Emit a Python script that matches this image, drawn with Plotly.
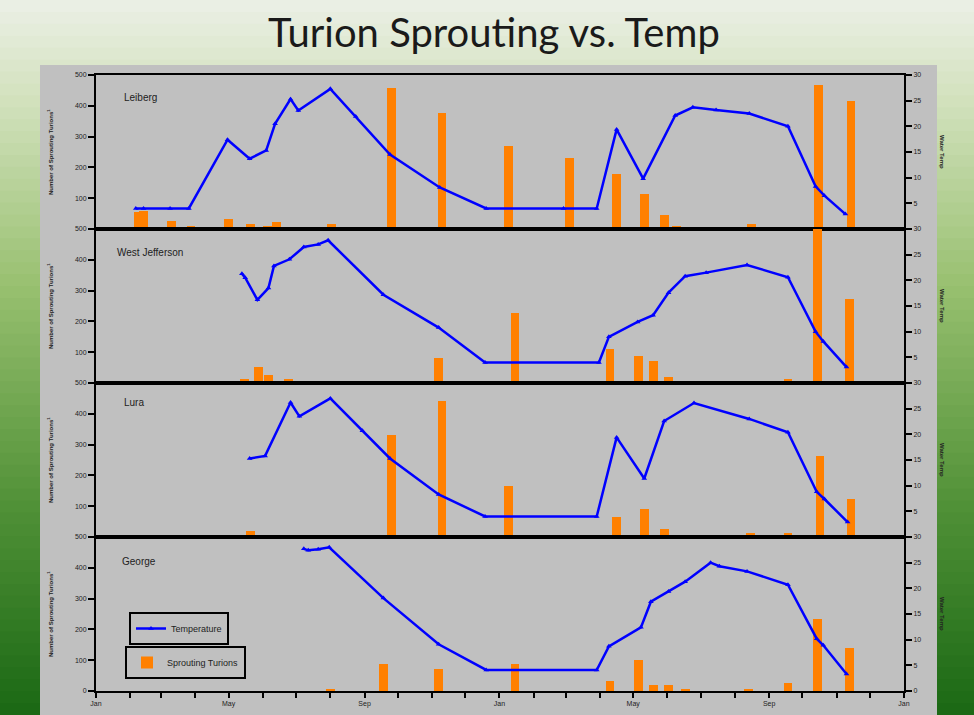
import plotly.graph_objects as go
from plotly.subplots import make_subplots

# ---------------- data ----------------
sites = ["Leiberg", "West Jefferson", "Lura", "George"]

leiberg_temp_dates = ["2007-02-06", "2007-02-13", "2007-03-09", "2007-03-26", "2007-04-30", "2007-05-20",
                      "2007-06-04", "2007-06-12", "2007-06-26", "2007-07-03", "2007-08-01", "2007-08-24",
                      "2007-09-24", "2007-11-08", "2007-12-20", "2008-02-28", "2008-03-29", "2008-04-16",
                      "2008-05-10", "2008-06-08", "2008-06-24", "2008-07-15", "2008-08-14", "2008-09-18",
                      "2008-10-13", "2008-10-21", "2008-11-09"]
leiberg_temp = [4.0, 4.0, 4.0, 4.0, 17.4, 13.7, 15.3, 20.5, 25.3, 23.1, 27.3, 21.9, 14.5, 8.1, 4.0,
                4.0, 4.0, 19.4, 9.8, 22.1, 23.7, 23.2, 22.5, 20.0, 8.3, 6.5, 2.9]
leiberg_bar_dates = ["2007-02-08", "2007-02-13", "2007-03-10", "2007-03-28", "2007-05-01", "2007-05-21",
                     "2007-06-05", "2007-06-13", "2007-08-02", "2007-09-25", "2007-11-10", "2008-01-09",
                     "2008-03-04", "2008-04-16", "2008-05-11", "2008-05-29", "2008-06-09", "2008-08-16",
                     "2008-10-16", "2008-11-14"]
leiberg_bars = [54, 59, 27, 9, 34, 15, 9, 22, 15, 457, 376, 271, 231, 180, 113, 47, 9, 15, 468, 417]

wj_temp_dates = ["2007-05-13", "2007-05-16", "2007-05-27", "2007-06-06", "2007-06-11", "2007-06-25",
                 "2007-07-08", "2007-07-21", "2007-07-30", "2007-09-18", "2007-11-07", "2007-12-19",
                 "2008-03-31", "2008-04-09", "2008-05-05", "2008-05-19", "2008-06-02", "2008-06-17",
                 "2008-07-06", "2008-08-12", "2008-09-18", "2008-10-13", "2008-10-20", "2008-11-10"]
wj_temp = [21.3, 20.5, 16.2, 18.5, 22.8, 24.1, 26.5, 27.0, 27.8, 17.2, 10.8, 4.0,
           4.0, 9.0, 11.9, 13.2, 17.6, 20.8, 21.5, 23.0, 20.6, 10.0, 8.1, 3.1]
wj_bar_dates = ["2007-05-15", "2007-05-28", "2007-06-06", "2007-06-12", "2007-06-24", "2007-07-09",
                "2007-11-07", "2008-01-15", "2008-04-10", "2008-05-06", "2008-05-19", "2008-06-02",
                "2008-09-18", "2008-10-15", "2008-11-13"]
wj_bars = [14, 52, 27, 8, 14, 8, 80, 227, 112, 87, 73, 20, 14, 650, 274]

lura_temp_dates = ["2007-05-20", "2007-06-03", "2007-06-26", "2007-07-04", "2007-08-01", "2007-08-30",
                   "2007-09-24", "2007-11-07", "2007-12-19", "2008-03-29", "2008-04-16", "2008-05-11",
                   "2008-05-29", "2008-06-25", "2008-08-14", "2008-09-18", "2008-10-14", "2008-10-21",
                   "2008-11-11"]
lura_temp = [15.3, 15.8, 26.2, 23.5, 27.0, 20.7, 15.3, 8.3, 4.0, 4.0, 19.4, 11.4, 22.6, 26.1,
             23.0, 20.4, 8.8, 7.4, 2.9]
lura_bar_dates = ["2007-05-21", "2007-06-04", "2007-08-01", "2007-09-25", "2007-11-10", "2008-01-09",
                  "2008-04-16", "2008-05-11", "2008-05-29", "2008-06-09", "2008-08-15", "2008-09-18",
                  "2008-10-17", "2008-11-14"]
lura_bars = [20, 8, 8, 331, 443, 166, 66, 92, 25, 8, 14, 14, 264, 125]

george_temp_dates = ["2007-07-08", "2007-07-12", "2007-07-21", "2007-07-31", "2007-09-18", "2007-11-07",
                     "2007-12-20", "2008-03-29", "2008-04-09", "2008-05-08", "2008-05-17", "2008-06-02",
                     "2008-06-17", "2008-07-10", "2008-07-18", "2008-08-12", "2008-09-18", "2008-10-14",
                     "2008-10-20", "2008-11-10"]
george_temp = [27.7, 27.4, 27.6, 28.0, 18.1, 9.1, 4.1, 4.1, 8.7, 12.4, 17.4, 19.4, 21.3, 25.0,
               24.3, 23.3, 20.7, 10.2, 8.9, 3.3]
george_bar_dates = ["2007-08-01", "2007-09-18", "2007-11-07", "2008-01-15", "2008-04-10", "2008-05-06",
                    "2008-05-19", "2008-06-02", "2008-06-17", "2008-08-13", "2008-09-18", "2008-10-15",
                    "2008-11-13"]
george_bars = [8, 87, 73, 87, 33, 100, 18, 18, 8, 8, 27, 234, 139]

month_ticks = ["2007-%02d-01" % m for m in range(1, 13)] + ["2008-%02d-01" % m for m in range(1, 13)] + ["2009-01-01"]
month_labels = ["Jan", "", "", "", "May", "", "", "", "Sep", "", "", "",
                "Jan", "", "", "", "May", "", "", "", "Sep", "", "", "", "Jan"]

count_ticks = [0, 100, 200, 300, 400, 500]
count_labels = ["0", "100", "200", "300", "400", "500"]
temp_ticks = [0, 5, 10, 15, 20, 25, 30]
temp_labels = ["0", "5", "10", "15", "20", "25", "30"]

temp_series = [(leiberg_temp_dates, leiberg_temp), (wj_temp_dates, wj_temp),
               (lura_temp_dates, lura_temp), (george_temp_dates, george_temp)]
bar_series = [(leiberg_bar_dates, leiberg_bars), (wj_bar_dates, wj_bars),
              (lura_bar_dates, lura_bars), (george_bar_dates, george_bars)]

# ---------------- figure ----------------
W, H = 974, 715
fig = make_subplots(rows=4, cols=1, shared_xaxes=True, vertical_spacing=0,
                    specs=[[{"secondary_y": True}]] * 4)

BAR_W = 8 * 86400000
for i in range(4):
    bx, by = bar_series[i]
    tx, ty = temp_series[i]
    fig.add_trace(go.Bar(x=bx, y=by, width=BAR_W, marker=dict(color="#ff8000", line=dict(width=0)),
                         name="Sprouting Turions", legend="legend2", showlegend=(i == 0)),
                  row=i + 1, col=1, secondary_y=False)
    fig.add_trace(go.Scatter(x=tx, y=ty, mode="lines+markers",
                             line=dict(color="#0000ff", width=2.5),
                             marker=dict(symbol="triangle-up", size=5, color="#0000ff"),
                             name="Temperature", legend="legend", showlegend=(i == 0)),
                  row=i + 1, col=1, secondary_y=True)

def py(y):
    return 1 - y / H

panel_px = [(75, 229), (229, 383), (383, 537), (537, 691)]
tickfont = dict(family="Liberation Sans", size=7, color="#222222")
for i, (top, bot) in enumerate(panel_px):
    dom = [py(bot), py(top)]
    last = (i == 3)
    cl = count_labels if last else [""] + count_labels[1:]
    tl = temp_labels if last else [""] + temp_labels[1:]
    fig.update_yaxes(domain=dom, range=[0, 500], tickmode="array", tickvals=count_ticks, ticktext=cl,
                     showline=True, linecolor="black", linewidth=2, ticks="outside", ticklen=6,
                     tickwidth=2, tickcolor="black", showgrid=False, zeroline=False, tickfont=tickfont,
                     automargin=False, row=i + 1, col=1, secondary_y=False)
    fig.update_yaxes(domain=dom, range=[0, 30], tickmode="array", tickvals=temp_ticks, ticktext=tl,
                     showline=True, linecolor="black", linewidth=2, ticks="outside", ticklen=6,
                     tickwidth=2, tickcolor="black", showgrid=False, zeroline=False, tickfont=tickfont,
                     automargin=False, row=i + 1, col=1, secondary_y=True)

fig.update_xaxes(domain=[96 / W, 904 / W], range=["2007-01-01", "2009-01-01"], type="date",
                 showline=True, linecolor="black", linewidth=2, mirror=True,
                 showgrid=False, zeroline=False, automargin=False)
for r in range(1, 4):
    fig.update_xaxes(ticks="", showticklabels=False, row=r, col=1)
fig.update_xaxes(tickmode="array", tickvals=month_ticks, ticktext=month_labels,
                 ticks="outside", ticklen=5, tickwidth=1.5, tickcolor="black",
                 showticklabels=True, tickfont=tickfont, tickangle=0, row=4, col=1)

# background: slide gradient + gray chart area
stops = [(0.0, (236, 240, 230)), (0.15, (208, 224, 186)), (0.4, (152, 192, 112)),
         (0.7, (82, 146, 56)), (1.0, (26, 104, 20))]

def grad(t):
    for (t0, c0), (t1, c1) in zip(stops[:-1], stops[1:]):
        if t0 <= t <= t1:
            f = (t - t0) / (t1 - t0)
            return "rgb(%d,%d,%d)" % tuple(round(a + (b - a) * f) for a, b in zip(c0, c1))
    return "rgb(%d,%d,%d)" % stops[-1][1]

shapes = []
N = 60
for k in range(N):
    y0 = k * H / N
    y1 = (k + 1) * H / N + 1
    shapes.append(dict(type="rect", xref="paper", yref="paper", x0=0, x1=1,
                       y0=py(min(y1, H)), y1=py(y0), fillcolor=grad((k + 0.5) / N),
                       line=dict(width=0), layer="below"))
shapes.append(dict(type="rect", xref="paper", yref="paper", x0=40 / W, x1=937 / W,
                   y0=0, y1=py(65), fillcolor="#c0c0c0", line=dict(width=0), layer="below"))

annotations = [
    dict(text="Turion Sprouting vs. Temp", x=494 / W, y=py(32), xref="paper", yref="paper",
         showarrow=False, font=dict(family="Lato", size=40, color="#1a1a1a"),
         xanchor="center", yanchor="middle"),
]
label_pos = [(122, 97), (115, 252), (122, 402), (120, 561)]
for name, (lx, ly) in zip(sites, label_pos):
    annotations.append(dict(text=name, x=lx / W, y=py(ly), xref="paper", yref="paper",
                            showarrow=False, xanchor="left", yanchor="middle",
                            font=dict(family="Liberation Sans", size=10, color="#222222")))
for (top, bot) in panel_px:
    cy = py((top + bot) / 2)
    annotations.append(dict(text="<b>Number of Sprouting Turions<sup>1</sup></b>", x=50 / W, y=cy,
                            xref="paper", yref="paper", showarrow=False, textangle=-90,
                            xanchor="center", yanchor="middle",
                            font=dict(family="Liberation Sans", size=6, color="#222222")))
    annotations.append(dict(text="<b>Water Temp</b>", x=942 / W, y=cy,
                            xref="paper", yref="paper", showarrow=False, textangle=90,
                            xanchor="center", yanchor="middle",
                            font=dict(family="Liberation Sans", size=6, color="#222222")))

fig.update_layout(
    width=W, height=H, margin=dict(l=0, r=0, t=0, b=0, autoexpand=False),
    paper_bgcolor="#c8dcb0", plot_bgcolor="#c0c0c0",
    shapes=shapes, annotations=annotations, bargap=0,
    legend=dict(x=129 / W, y=py(612), xanchor="left", yanchor="top", bgcolor="#c0c0c0",
                bordercolor="black", borderwidth=2, itemwidth=30,
                font=dict(family="Liberation Sans", size=9, color="#222222")),
    legend2=dict(x=125 / W, y=py(646), xanchor="left", yanchor="top", bgcolor="#c0c0c0",
                 bordercolor="black", borderwidth=2, itemwidth=30,
                 font=dict(family="Liberation Sans", size=9, color="#222222")),
)

fig.write_html("out.html", config={"displayModeBar": False},
               post_script="document.body.style.margin='0';")
